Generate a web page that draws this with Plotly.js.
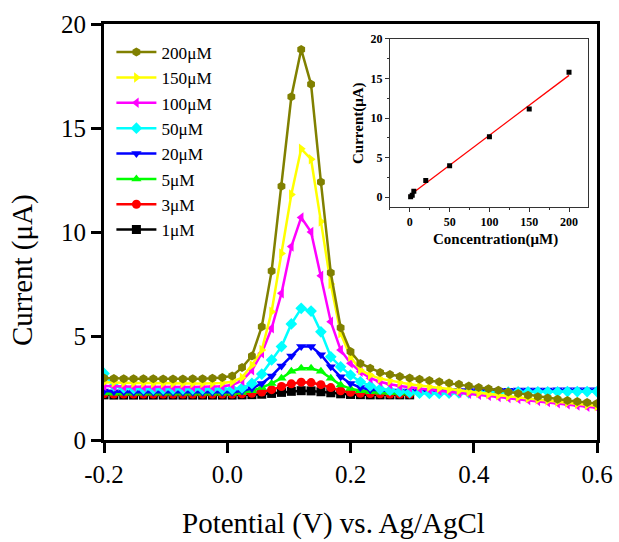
<!DOCTYPE html>
<html>
<head>
<meta charset="utf-8">
<script src="https://cdn.plot.ly/plotly-3.0.1.min.js"></script>
<style>
  html, body { margin: 0; padding: 0; background: #fff; }
  #chart { width: 619px; height: 542px; }
</style>
</head>
<body>
<div id="chart"></div>
<script>
// Potential sweep (V vs. Ag/AgCl)
const potential = [
  -0.200, -0.184, -0.168, -0.152, -0.136, -0.120, -0.104, -0.088, -0.072, -0.056,
  -0.040, -0.024, -0.008, 0.008, 0.024, 0.040, 0.056, 0.072, 0.088, 0.104,
  0.120, 0.136, 0.152, 0.168, 0.184, 0.200, 0.216, 0.232, 0.248, 0.264,
  0.280, 0.296, 0.312, 0.328, 0.344, 0.360, 0.376, 0.392, 0.408, 0.424,
  0.440, 0.456, 0.472, 0.488, 0.504, 0.520, 0.536, 0.552, 0.568, 0.584, 0.600
];
// Short sweep used by the three lowest concentrations
const potentialShort = [
  -0.200, -0.184, -0.168, -0.152, -0.136, -0.120, -0.104, -0.088, -0.072, -0.056,
  -0.040, -0.024, -0.008, 0.008, 0.024, 0.040, 0.056, 0.072, 0.088, 0.104,
  0.120, 0.136, 0.152, 0.168, 0.184, 0.200, 0.216, 0.232, 0.248, 0.264,
  0.280, 0.296
];

// Currents (µA) for each concentration
const i200 = [
  2.98, 2.96, 2.95, 2.95, 2.94, 2.94, 2.93, 2.93, 2.93, 2.94,
  2.95, 2.97, 3.00, 3.08, 3.48, 4.04, 5.45, 8.12, 12.2, 16.5,
  18.78, 17.1, 12.4, 8.04, 5.40, 4.25, 3.68, 3.45, 3.25, 3.15,
  3.05, 2.98, 2.92, 2.86, 2.80, 2.74, 2.68, 2.60, 2.53, 2.46,
  2.39, 2.31, 2.23, 2.15, 2.08, 2.02, 1.96, 1.90, 1.85, 1.80, 1.75
];
const i150 = [
  2.78, 2.76, 2.75, 2.74, 2.74, 2.73, 2.73, 2.72, 2.72, 2.72,
  2.72, 2.73, 2.74, 2.80, 3.00, 3.60, 4.33, 6.17, 8.97, 11.8,
  14.0, 13.5, 10.5, 7.50, 5.13, 4.00, 3.37, 3.12, 2.95, 2.85,
  2.76, 2.68, 2.62, 2.56, 2.50, 2.44, 2.38, 2.32, 2.26, 2.20,
  2.15, 2.10, 2.05, 2.00, 1.95, 1.90, 1.85, 1.80, 1.74, 1.68, 1.63
];
const i100 = [
  2.60, 2.58, 2.57, 2.56, 2.56, 2.55, 2.55, 2.55, 2.55, 2.55,
  2.55, 2.56, 2.58, 2.64, 2.85, 3.35, 4.17, 5.37, 7.05, 9.30,
  10.7, 10.0, 7.90, 5.69, 4.33, 3.69, 3.28, 2.97, 2.80, 2.68,
  2.60, 2.53, 2.47, 2.42, 2.37, 2.32, 2.27, 2.22, 2.17, 2.12,
  2.07, 2.02, 1.97, 1.92, 1.87, 1.82, 1.77, 1.72, 1.66, 1.60, 1.55
];
const i50 = [
  3.20, 2.60, 2.50, 2.47, 2.46, 2.45, 2.45, 2.45, 2.45, 2.45,
  2.45, 2.45, 2.45, 2.45, 2.50, 2.72, 3.17, 3.85, 4.49, 5.58,
  6.33, 6.20, 5.20, 4.00, 3.52, 3.12, 2.80, 2.60, 2.45, 2.38,
  2.32, 2.28, 2.25, 2.24, 2.24, 2.25, 2.26, 2.27, 2.28, 2.29,
  2.30, 2.30, 2.31, 2.31, 2.32, 2.32, 2.32, 2.33, 2.33, 2.33, 2.33
];
const i20 = [
  2.35, 2.32, 2.31, 2.30, 2.30, 2.30, 2.30, 2.30, 2.30, 2.30,
  2.30, 2.30, 2.30, 2.30, 2.35, 2.48, 2.72, 3.08, 3.56, 4.04,
  4.50, 4.50, 4.10, 3.52, 3.04, 2.72, 2.52, 2.42, 2.38, 2.36,
  2.36, 2.36, 2.36, 2.37, 2.37, 2.37, 2.38, 2.38, 2.38, 2.39,
  2.39, 2.39, 2.40, 2.40, 2.40, 2.40, 2.41, 2.41, 2.41, 2.41, 2.41
];
const i5 = [
  2.26, 2.25, 2.25, 2.25, 2.25, 2.25, 2.25, 2.25, 2.25, 2.25,
  2.25, 2.25, 2.25, 2.25, 2.28, 2.37, 2.52, 2.72, 2.97, 3.30,
  3.45, 3.45, 3.30, 2.97, 2.64, 2.47, 2.37, 2.32, 2.29, 2.27,
  2.26, 2.25
];
const i3 = [
  2.22, 2.21, 2.21, 2.21, 2.21, 2.21, 2.21, 2.21, 2.21, 2.21,
  2.21, 2.21, 2.21, 2.21, 2.22, 2.25, 2.31, 2.42, 2.57, 2.70,
  2.78, 2.76, 2.66, 2.52, 2.37, 2.29, 2.25, 2.23, 2.22, 2.21,
  2.21, 2.21
];
const i1 = [
  2.17, 2.16, 2.16, 2.16, 2.16, 2.16, 2.16, 2.16, 2.16, 2.16,
  2.16, 2.16, 2.16, 2.16, 2.17, 2.18, 2.20, 2.24, 2.29, 2.34,
  2.37, 2.36, 2.32, 2.27, 2.22, 2.19, 2.18, 2.17, 2.17, 2.17,
  2.17, 2.17
];

// Calibration inset: peak current vs. concentration
const conc = [1, 3, 5, 20, 50, 100, 150, 200];
const peakCurrent = [0.05, 0.25, 0.76, 2.1, 3.97, 7.65, 11.15, 15.8];
const fitConc = [0, 200];
const fitCurrent = [0.25, 15.4];

const serif = 'Liberation Serif, Times New Roman, serif';

function sweep(name, x, y, color, symbol) {
  return {
    type: 'scatter', mode: 'lines+markers', name: name,
    x: x, y: y,
    line: { color: color, width: 2.5 },
    marker: { color: color, symbol: symbol, size: 9 },
    xaxis: 'x', yaxis: 'y'
  };
}

const traces = [
  sweep('1μM', potentialShort, i1, '#000000', 'square'),
  sweep('3μM', potentialShort, i3, '#FF0000', 'circle'),
  sweep('5μM', potentialShort, i5, '#00FF00', 'triangle-up'),
  sweep('20μM', potential, i20, '#0000FF', 'triangle-down'),
  sweep('50μM', potential, i50, '#00FFFF', 'diamond'),
  sweep('100μM', potential, i100, '#FF00FF', 'triangle-left'),
  sweep('150μM', potential, i150, '#FFFF00', 'triangle-right'),
  sweep('200μM', potential, i200, '#808000', 'hexagon'),
  {
    type: 'scatter', mode: 'lines', x: fitConc, y: fitCurrent,
    line: { color: '#FF0000', width: 1.3 }, showlegend: false,
    xaxis: 'x2', yaxis: 'y2', hoverinfo: 'skip'
  },
  {
    type: 'scatter', mode: 'markers', x: conc, y: peakCurrent,
    marker: { color: '#000000', symbol: 'square', size: 5 }, showlegend: false,
    xaxis: 'x2', yaxis: 'y2'
  }
];

const layout = {
  width: 619, height: 542,
  margin: { l: 104, r: 22, t: 24, b: 102 },
  paper_bgcolor: '#ffffff', plot_bgcolor: '#ffffff',
  showlegend: true,
  legend: {
    x: 0.015, y: 0.975, xanchor: 'left', yanchor: 'top',
    bgcolor: 'rgba(0,0,0,0)', traceorder: 'reversed',
    font: { family: serif, size: 17.2, color: '#000' },
    itemwidth: 40
  },
  xaxis: {
    range: [-0.2, 0.6], tickvals: [-0.2, 0, 0.2, 0.4, 0.6],
    ticktext: ['-0.2', '0.0', '0.2', '0.4', '0.6'],
    showgrid: false, zeroline: false,
    showline: true, linecolor: '#000', linewidth: 3, mirror: true,
    ticks: 'outside', ticklen: 10, tickwidth: 3, tickcolor: '#000',
    tickfont: { family: serif, size: 25, color: '#000' }
  },
  yaxis: {
    range: [0, 20], tickvals: [0, 5, 10, 15, 20],
    showgrid: false, zeroline: false,
    showline: true, linecolor: '#000', linewidth: 3, mirror: true,
    ticks: 'outside', ticklen: 10, tickwidth: 3, tickcolor: '#000',
    tickfont: { family: serif, size: 25, color: '#000' }
  },
  xaxis2: {
    domain: [0.58, 0.982], anchor: 'y2', range: [-25, 224],
    tickvals: [0, 50, 100, 150, 200],
    showgrid: false, zeroline: false,
    showline: true, linecolor: '#333', linewidth: 1, mirror: true,
    ticks: 'outside', ticklen: 4, tickwidth: 1, tickcolor: '#333',
    minor: { dtick: 25, ticks: 'outside', ticklen: 2, tickcolor: '#333' },
    tickfont: { family: serif, size: 12, color: '#000', weight: 'bold' }
  },
  yaxis2: {
    domain: [0.561, 0.964], anchor: 'x2', range: [-1.2, 20],
    tickvals: [0, 5, 10, 15, 20],
    showgrid: false, zeroline: false,
    showline: true, linecolor: '#333', linewidth: 1, mirror: true,
    ticks: 'outside', ticklen: 4, tickwidth: 1, tickcolor: '#333',
    minor: { dtick: 2.5, ticks: 'outside', ticklen: 2, tickcolor: '#333' },
    tickfont: { family: serif, size: 12, color: '#000', weight: 'bold' }
  },
  annotations: [
    {
      text: 'Potential (V) vs. Ag/AgCl', xref: 'paper', yref: 'paper',
      x: (333 - 104) / 493, y: -(523 - 440) / 416, xanchor: 'center', yanchor: 'middle',
      showarrow: false, font: { family: serif, size: 29, color: '#000' }
    },
    {
      text: 'Current (μA)', xref: 'paper', yref: 'paper', textangle: -90,
      x: (22 - 104) / 493, y: (440 - 270) / 416, xanchor: 'center', yanchor: 'middle',
      showarrow: false, font: { family: serif, size: 29, color: '#000' }
    },
    {
      text: '<b>Concentration(μM)</b>', xref: 'paper', yref: 'paper',
      x: (495 - 104) / 493, y: (440 - 240) / 416, xanchor: 'center', yanchor: 'middle',
      showarrow: false, font: { family: serif, size: 15, color: '#000' }
    },
    {
      text: '<b>Current(μA)</b>', xref: 'paper', yref: 'paper', textangle: -90,
      x: (358 - 104) / 493, y: (440 - 123) / 416, xanchor: 'center', yanchor: 'middle',
      showarrow: false, font: { family: serif, size: 15, color: '#000' }
    }
  ]
};

Plotly.newPlot('chart', traces, layout, { displayModeBar: false, staticPlot: true });
</script>
</body>
</html>
